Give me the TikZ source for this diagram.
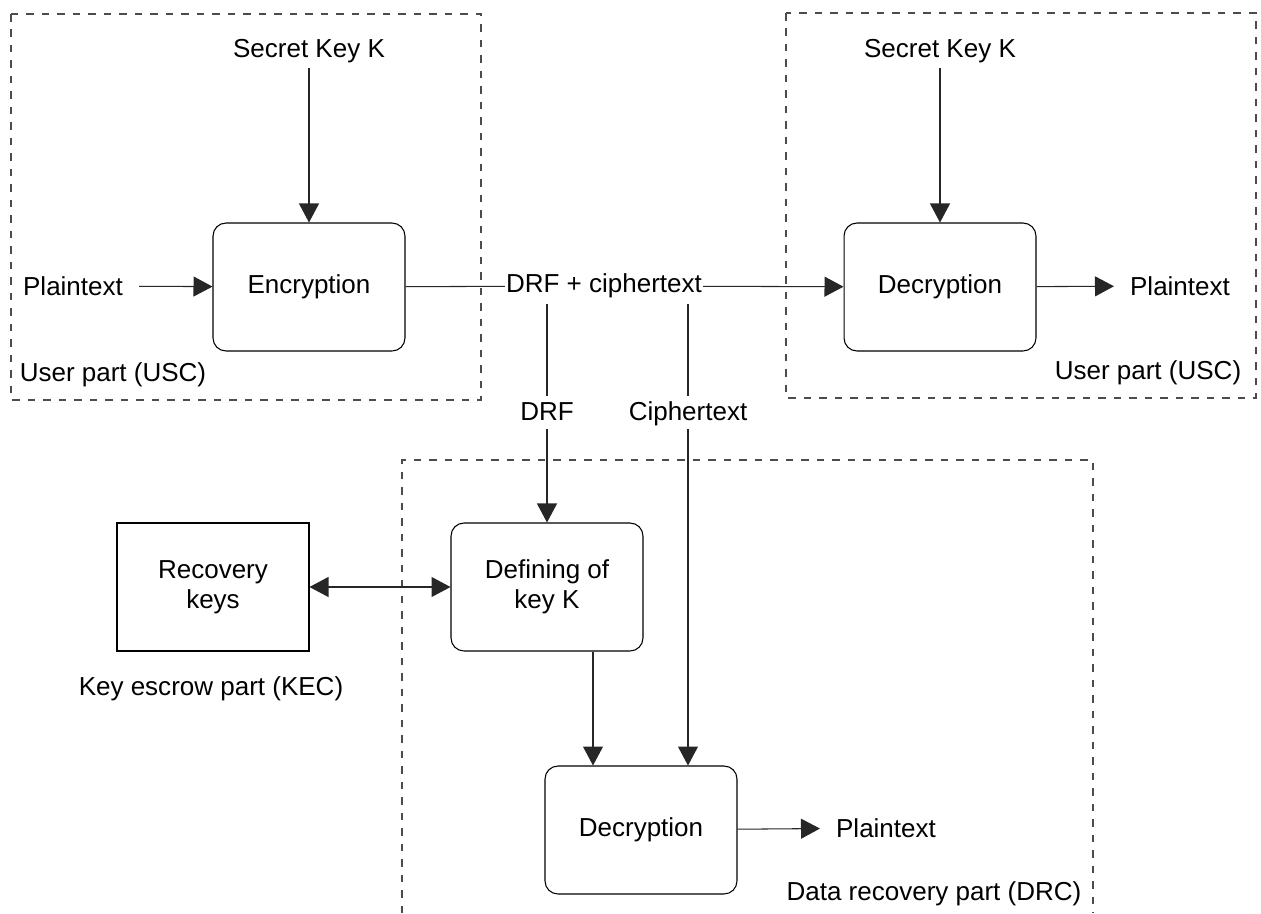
\documentclass[tikz,border=0pt]{standalone}
\usepackage{fontspec}
\setmainfont{Liberation Sans}
\usetikzlibrary{positioning, arrows.meta}

\begin{document}
\begin{tikzpicture}[
	x=0.02cm, y=-0.02cm,
	font=\fontsize{14.8}{17}\selectfont,
	every node/.style={inner sep=3pt},
	proc/.style={draw, rounded corners=0.26cm, minimum width=3.84cm, minimum height=2.56cm, align=center, line width=0.6pt},
	store/.style={draw, minimum width=3.84cm, minimum height=2.56cm, align=center, line width=0.6pt},
	io/.style={inner xsep=9pt},
	midlabel/.style={anchor=base, text depth=0.21em},
	part/.style={draw=black!70, dash pattern=on 0.15cm off 0.16cm, line width=0.6pt},
	link/.style={draw=black!85, line width=0.6pt},
	flow/.style={link, -{Triangle[length=0.38cm, width=0.4cm]}},
	flowboth/.style={link, {Triangle[length=0.38cm, width=0.4cm]}-{Triangle[length=0.38cm, width=0.4cm]}}
	]
	\useasboundingbox (0,0) rectangle (1261,913);

	% user parts
	\draw[part] (11,14) rectangle (481,400);
	\draw[part] (786,13) rectangle (1256,398);
	\draw[part] (402,913) |- (1093,460) -- (1093,913);

	\node[proc] (enc) at (309,287) {Encryption};
	\node (key1) at (309,51) {Secret Key K};
	\node[io] (pt1) at (73,286) {Plaintext};
	\node[anchor=base] (usc1) at (113,381) {User part (USC)};

	\node[inner xsep=0.5pt] (mix) at (604,286) {DRF + ciphertext};

	\node[proc] (dec1) at (940,287) {Decryption};
	\node (key2) at (940,51) {Secret Key K};
	\node[io] (pt2) at (1180,286) {Plaintext};
	\node[anchor=base] (usc2) at (1148,379) {User part (USC)};

	\node[midlabel] (drf) at (547,420) {DRF};
	\node[midlabel] (cip) at (688,420) {Ciphertext};

	% recovery side
	\node[store] (rec) at (213,587) {Recovery\\keys};
	\node[anchor=base] (kec) at (211,695) {Key escrow part (KEC)};
	\node[proc] (def) at (547,587) {Defining of\\key K};
	\node[proc] (dec2) at (641,830) {Decryption};
	\node[io] (pt3) at (886,828) {Plaintext};
	\node[anchor=base east] (drc) at (1087,900) {Data recovery part (DRC)};
	\coordinate (dk) at ([xshift=-0.96cm]dec2.north);

	\draw[flow] (key1) -- (enc);
	\draw[flow] (pt1) -- (enc);
	\draw[link] (enc) -- (mix);
	\draw[flow] (mix) -- (dec1);
	\draw[flow] (key2) -- (dec1);
	\draw[flow] (dec1) -- (pt2);

	\draw[link] (mix.south -| drf.north) -- (drf.north);
	\draw[flow] (drf.south) -- (drf.south |- def.north);
	\draw[link] (mix.south -| cip.north) -- (cip.north);
	\draw[flow] (cip.south) -- (cip.south |- dec2.north);

	\draw[flowboth] (rec) -- (def);
	\draw[flow] (def.south -| dk) -- (dk);
	\draw[flow] (dec2) -- (pt3);
\end{tikzpicture}
\end{document}
